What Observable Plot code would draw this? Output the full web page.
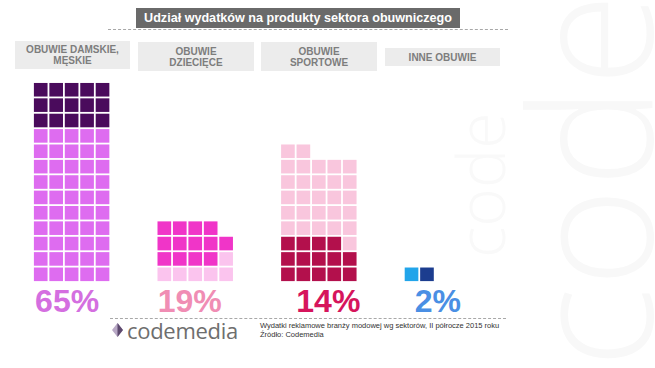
<!DOCTYPE html>
<html><head><meta charset="utf-8">
<script src="https://cdn.jsdelivr.net/npm/d3@7"></script>
<script src="https://cdn.jsdelivr.net/npm/@observablehq/plot@0.6"></script>
<style>
body{margin:0;background:#fff;font-family:"Liberation Sans",Arial,sans-serif;}
#wrap{position:relative;width:655px;height:368px;overflow:hidden;background:#fff;}
.abs{position:absolute;}
.hdr{position:absolute;background:#ececec;color:#7d7d7d;font-weight:bold;font-size:10px;line-height:11px;text-align:center;display:flex;flex-direction:column;justify-content:center;}
#title{left:136px;top:8px;width:324px;height:20px;background:#6a6a6a;color:#fff;font-weight:bold;font-size:12.6px;line-height:20px;text-align:center;}
.dash{position:absolute;height:0;border-top:1px dashed #a8a8a8;}
#source{left:260px;top:321px;font-size:7.5px;line-height:9px;color:#333;}
#logo{left:111px;top:320px;height:20px;display:flex;align-items:center;}
#logo span{font-family:"Open Sans","Liberation Sans",sans-serif;font-weight:400;font-size:22px;line-height:20px;color:#6e6e6e;letter-spacing:-0.3px;margin-left:3px;}
</style></head><body><div id="wrap"></div>
<script>
// ---- data ----
const categories = ["OBUWIE DAMSKIE, MĘSKIE", "OBUWIE DZIECIĘCE", "OBUWIE SPORTOWE", "INNE OBUWIE"];
const headerLines = [["OBUWIE DAMSKIE,", "MĘSKIE"], ["OBUWIE", "DZIECIĘCE"], ["OBUWIE", "SPORTOWE"], ["INNE OBUWIE"]];
const shares = [65, 19, 14, 2];
const percentLabels = ["65%", "19%", "14%", "2%"];
const firstToneCells = [15, 13, 14, 1];
const secondToneCells = [50, 6, 28, 1];
const fillFrom = ["top", "top", "bottom", "bottom"];
const titleText = "Udział wydatków na produkty sektora obuwniczego";
const sourceLines = ["Wydatki reklamowe branży modowej wg sektorów, II półrocze 2015 roku", "Źródło: Codemedia"];
const brand = "codemedia";

// ---- styles ----
const firstTone = ["#4a0b5c", "#f035c8", "#b3104c", "#22a5ea"];
const secondTone = ["#de6cf0", "#fbc4ee", "#f9c6dd", "#1c3d8f"];
const pctColors = ["#d46fe0", "#f08db4", "#d6155c", "#4a8fe4"];
const labelNudge = [-5, -6, 9, -5];
const perRow = 5, groupStep = 8;

// build waffle cells from counts
const cells = [];
categories.forEach((cat, i) => {
  const n = firstToneCells[i] + secondToneCells[i];
  const pos = d3.range(n).map(k => ({row: Math.floor(k / perRow), col: k % perRow}));
  const ordered = fillFrom[i] === "top" ? pos.slice().sort((a, b) => b.row - a.row || a.col - b.col) : pos;
  ordered.forEach((p, k) => cells.push({cat, i, row: p.row, col: p.col, color: k < firstToneCells[i] ? firstTone[i] : secondTone[i]}));
});
const labels = categories.map((cat, i) => ({cat, i, share: shares[i], text: percentLabels[i]}));

const pitchX = 15.45, pitchY = 15.38, x0 = 33, yBase = 282;
const chart = Plot.plot({
  width: 655, height: 368,
  marginTop: 0, marginRight: 0, marginBottom: 0, marginLeft: 0,
  x: {domain: [0, 40], range: [x0, x0 + 40 * pitchX], axis: null},
  y: {domain: [0, 13], range: [yBase, yBase - 13 * pitchY], axis: null},
  color: {type: "identity"},
  style: {background: "transparent", overflow: "visible"},
  marks: [
    Plot.rect(cells, {
      x1: d => d.i * groupStep + d.col, x2: d => d.i * groupStep + d.col + 1,
      y1: d => d.row, y2: d => d.row + 1,
      fill: d => d.color, inset: 0.9
    }),
    ...labels.map((d, i) => Plot.text([d], {
      x: () => d.i * groupStep + 2.5, y: () => -1.9, text: "text",
      fill: pctColors[i], fontSize: 32, fontWeight: "bold", lineAnchor: "bottom",
      dx: labelNudge[i], fontFamily: "Liberation Sans, Arial, sans-serif"
    }))
  ]
});

const wrap = document.getElementById("wrap");
// watermark
const wm = document.createElementNS("http://www.w3.org/2000/svg", "svg");
wm.setAttribute("width", 655); wm.setAttribute("height", 368);
wm.setAttribute("class", "abs"); wm.style.left = "0"; wm.style.top = "0";
wm.innerHTML = `<text transform="translate(652,368) rotate(-90)" font-family="Open Sans, sans-serif" font-weight="300" font-size="170" fill="#f8f8f8">code</text>
<text transform="translate(505,258) rotate(-90)" font-family="Open Sans, sans-serif" font-weight="300" font-size="66" fill="#f9f9f9">code</text>`;
wrap.appendChild(wm);
chart.classList.add("abs"); chart.style.left = "0"; chart.style.top = "0";
wrap.appendChild(chart);

const t = document.createElement("div"); t.id = "title"; t.className = "abs"; t.textContent = titleText; wrap.appendChild(t);
const mkDash = (l, tp, w) => { const d = document.createElement("div"); d.className = "dash"; d.style.left = l + "px"; d.style.top = tp + "px"; d.style.width = w + "px"; wrap.appendChild(d); };
mkDash(108, 29, 400);
mkDash(110, 318, 396);

const boxes = [[15, 41, 115, 28], [138, 42, 116, 29], [261, 42, 116, 29], [385, 48, 115, 18]];
headerLines.forEach((lines, i) => {
  const b = document.createElement("div"); b.className = "hdr";
  const [l, tp, w, h] = boxes[i];
  Object.assign(b.style, {left: l + "px", top: tp + "px", width: w + "px", height: h + "px"});
  lines.forEach(s => { const sp = document.createElement("div"); sp.textContent = s; b.appendChild(sp); });
  wrap.appendChild(b);
});

const src = document.createElement("div"); src.id = "source"; src.className = "abs";
sourceLines.forEach(s => { const d = document.createElement("div"); d.textContent = s; src.appendChild(d); });
wrap.appendChild(src);

const logo = document.createElement("div"); logo.id = "logo"; logo.className = "abs";
logo.innerHTML = `<svg width="13" height="16" viewBox="0 0 13 16"><polygon points="6.5,1 12,8 6.5,15 1,8" fill="#b9a9c6"/><polygon points="6.5,1 12,8 6.5,15" fill="#5d4a6e"/></svg><span></span>`;
logo.querySelector("span").textContent = brand;
wrap.appendChild(logo);
</script></body></html>
